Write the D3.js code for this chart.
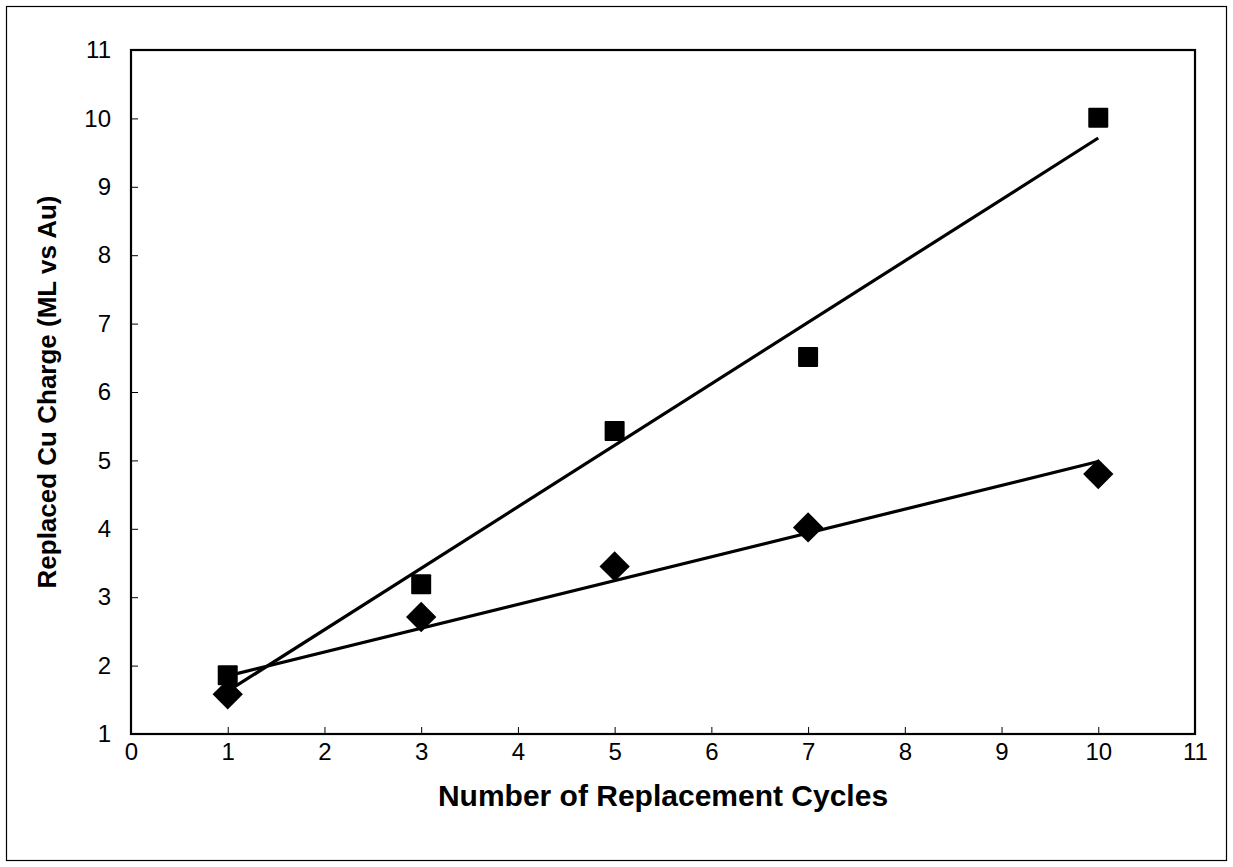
<!DOCTYPE html>
<html>
<head>
<meta charset="utf-8">
<script src="https://cdn.jsdelivr.net/npm/d3@7"></script>
<style>
  html, body { margin: 0; padding: 0; background: #fff; }
  svg { display: block; }
  text { font-family: "Liberation Sans", Arial, sans-serif; fill: #000; }
</style>
</head>
<body>
<svg id="chart" width="1233" height="867"></svg>
<script>
// Replacement cycles and replaced Cu charge (ML vs Au)
const cycles = [1, 3, 5, 7, 10];
const squareSeries = [1.86, 3.19, 5.43, 6.51, 10.01];
const diamondSeries = [1.58, 2.71, 3.45, 4.02, 4.80];
const xTicks = [0, 1, 2, 3, 4, 5, 6, 7, 8, 9, 10, 11];
const yTicks = [1, 2, 3, 4, 5, 6, 7, 8, 9, 10, 11];

const svg = d3.select("#chart");
const W = 1233, H = 867;
const plot = { left: 131, right: 1195, top: 50, bottom: 734 };

// outer frame
svg.append("rect")
  .attr("x", 6.5).attr("y", 6.5)
  .attr("width", W - 13).attr("height", H - 13)
  .attr("fill", "#fff").attr("stroke", "#000").attr("stroke-width", 1.2);

const x = d3.scaleLinear().domain([0, 11]).range([plot.left, plot.right]);
const y = d3.scaleLinear().domain([1, 11]).range([plot.bottom, plot.top]);

// axes with inward ticks
const xAxis = d3.axisBottom(x).tickValues(xTicks).tickSize(-7).tickPadding(9).tickFormat(d3.format("d"));
const yAxis = d3.axisLeft(y).tickValues(yTicks).tickSize(-7).tickPadding(20).tickFormat(d3.format("d"));

const gx = svg.append("g").attr("transform", `translate(0,${plot.bottom})`).call(xAxis);
const gy = svg.append("g").attr("transform", `translate(${plot.left},0)`).call(yAxis);
[gx, gy].forEach(g => {
  g.attr("font-family", null).attr("font-size", null);
  g.select(".domain").remove();
  g.selectAll(".tick line").attr("stroke", "#000").attr("stroke-width", 1);
  g.selectAll(".tick text").style("font-size", "24px").attr("fill", "#000");
});
gx.selectAll(".tick").filter(d => d === 0 || d === 11).select("line").remove();
gy.selectAll(".tick").filter(d => d === 1 || d === 11).select("line").remove();

// plot area border
svg.append("rect")
  .attr("x", plot.left).attr("y", plot.top)
  .attr("width", plot.right - plot.left).attr("height", plot.bottom - plot.top)
  .attr("fill", "none").attr("stroke", "#000").attr("stroke-width", 2.2);

// least-squares trend line for a series
function fit(xs, ys) {
  const mx = d3.mean(xs), my = d3.mean(ys);
  const sxy = d3.sum(xs, (v, i) => (v - mx) * (ys[i] - my));
  const sxx = d3.sum(xs, v => (v - mx) * (v - mx));
  const m = sxy / sxx;
  return { m, b: my - m * mx };
}

const line = d3.line().x(d => x(d[0])).y(d => y(d[1]));
[squareSeries, diamondSeries].forEach(series => {
  const f = fit(cycles, series);
  const x0 = d3.min(cycles), x1 = d3.max(cycles);
  svg.append("path")
    .attr("d", line([[x0, f.m * x0 + f.b], [x1, f.m * x1 + f.b]]))
    .attr("fill", "none").attr("stroke", "#000").attr("stroke-width", 3.2);
});

// square markers
svg.append("g").selectAll("rect")
  .data(cycles.map((c, i) => [c, squareSeries[i]]))
  .join("rect")
  .attr("x", d => x(d[0]) - 10).attr("y", d => y(d[1]) - 10)
  .attr("width", 20).attr("height", 20).attr("rx", 1)
  .attr("fill", "#000");

// diamond markers
const diamond = d3.symbol().type(d3.symbolSquare).size(460);
svg.append("g").selectAll("path")
  .data(cycles.map((c, i) => [c, diamondSeries[i]]))
  .join("path")
  .attr("d", diamond)
  .attr("transform", d => `translate(${x(d[0])},${y(d[1])}) rotate(45)`)
  .attr("fill", "#000");

// axis titles
svg.append("text")
  .attr("x", 663).attr("y", 806)
  .attr("text-anchor", "middle")
  .style("font-size", "30px").style("font-weight", "bold")
  .text("Number of Replacement Cycles");

svg.append("text")
  .attr("transform", `translate(56,${(plot.top + plot.bottom) / 2}) rotate(-90)`)
  .attr("text-anchor", "middle")
  .style("font-size", "26px").style("font-weight", "bold")
  .text("Replaced Cu Charge (ML vs Au)");
</script>
</body>
</html>
